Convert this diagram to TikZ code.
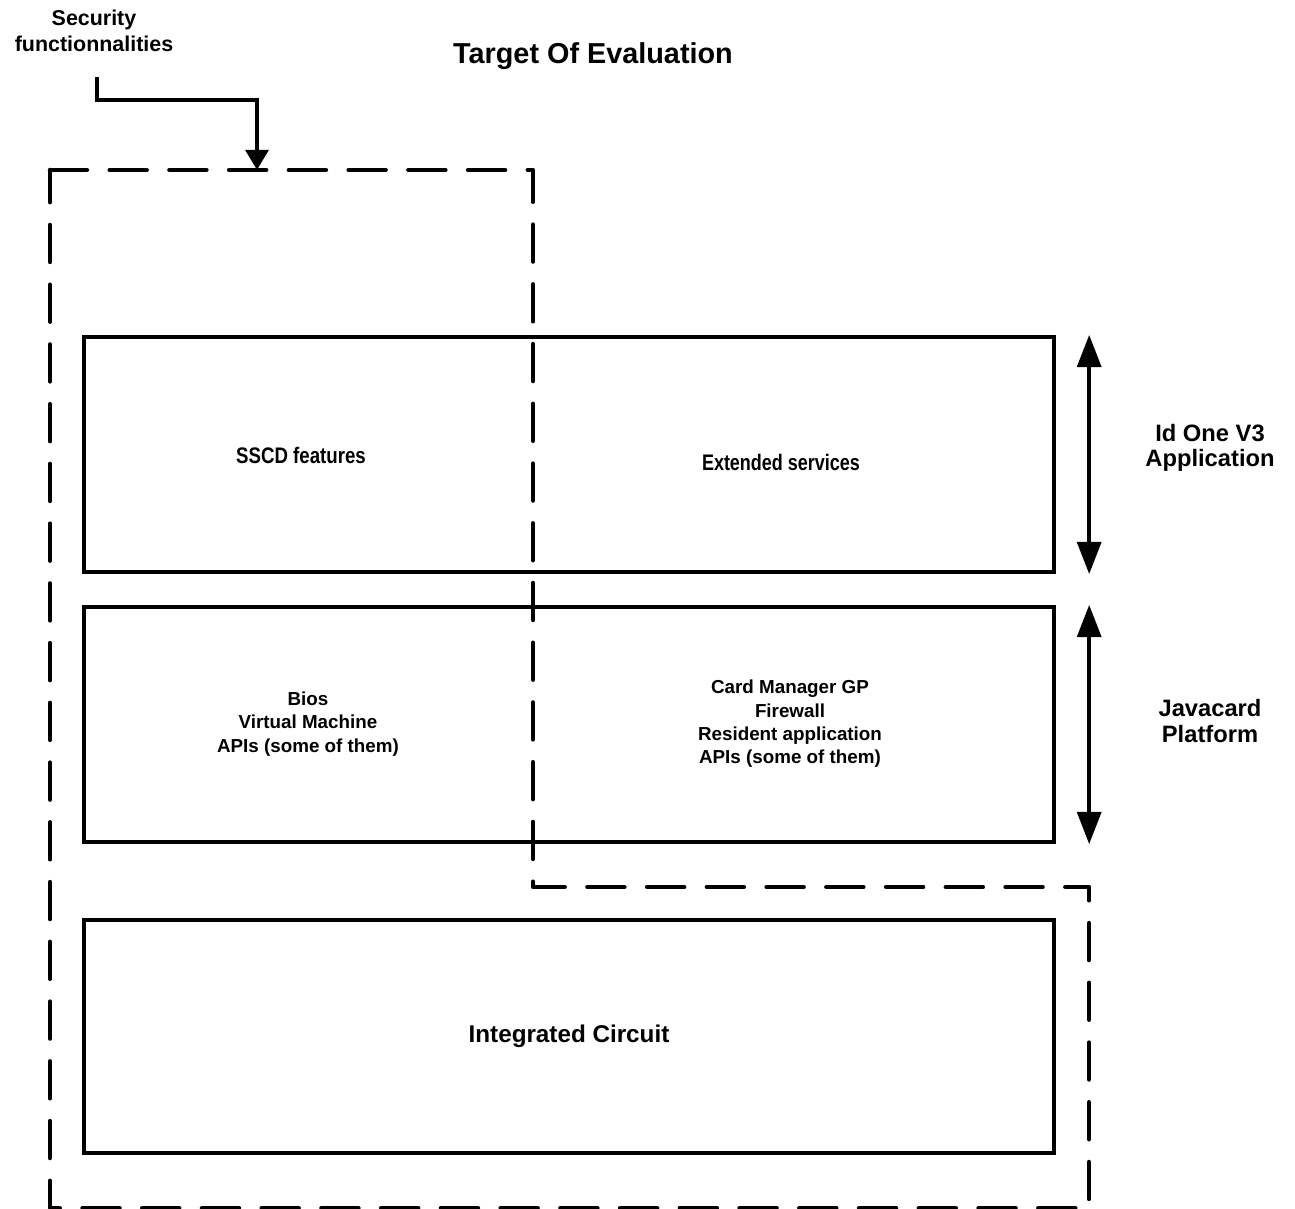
\documentclass[tikz,border=0pt]{standalone}
\usepackage{fontspec}
\setmainfont{Liberation Sans}
\usetikzlibrary{arrows.meta}

\begin{document}
\begin{tikzpicture}[x=0.02cm, y=-0.02cm,
    layerbox/.style={rectangle, draw, line width=2.6pt, minimum width=19.4cm, minimum height=4.7cm, inner sep=0pt},
    toeline/.style={line width=2.6pt, dash pattern=on 21pt off 13pt, line cap=round, line join=round},
    levelarrow/.style={line width=2.6pt, {Triangle[length=18.5pt,width=13.5pt]}-{Triangle[length=18.5pt,width=13.5pt]}},
    smalltext/.style={font=\bfseries\fontsize{10.7}{13.3}\selectfont, align=center},
    labeltext/.style={font=\bfseries\fontsize{13.5}{14.5}\selectfont, align=center}]
    \useasboundingbox (0,0) rectangle (1295,1209);

    % layers
    \node at (569,454.5) [layerbox] (Appli) {};
    \node at (569,724.5) [layerbox] (Platform) {};
    \node at (569,1036.5) [layerbox, minimum height=4.66cm, font=\bfseries\fontsize{13.8}{16}\selectfont] (IC) {Integrated Circuit};

    \node at (301,455) [smalltext] (SSCD) {\scalebox{0.83}[1]{\fontsize{12.8}{15}\selectfont SSCD features}};
    \node at (781,462) [smalltext] (Extended) {\scalebox{0.8}[1]{\fontsize{12.8}{15}\selectfont Extended services}};
    \node at (308,724) [smalltext] (Bios) {Bios\\Virtual Machine\\APIs (some of them)};
    \node at (790,724) [smalltext] (CardMgr) {Card Manager GP\\Firewall\\Resident application\\APIs (some of them)};

    % titles and side labels
    \node at (593,56) [font=\bfseries\fontsize{16.4}{19}\selectfont] (TOE) {Target Of Evaluation};
    \node at (94,31) [font=\bfseries\fontsize{12.2}{14.5}\selectfont, align=center] (Security) {Security\\functionnalities};
    \node at (1210,448) [labeltext] (IdOne) {Id One V3\\Application};
    \node at (1210,721) [labeltext] (Javacard) {Javacard\\Platform};

    % target of evaluation outline
    \coordinate (TOEtop) at (257,170);
    \draw[toeline] (50,170) -- (533,170) -- (533,887) -- (1089,887) -- (1089,1208) -- (50,1208) -- cycle;

    \coordinate (SecStart) at (97,77);
    \draw[line width=2.3pt, -{Triangle[length=11.5pt,width=13pt]}] (SecStart) -- ++(0,23) -| (TOEtop);

    \draw[levelarrow] ([xshift=0.66cm]Appli.north east) -- ([xshift=0.66cm]Appli.south east);
    \draw[levelarrow] ([xshift=0.66cm]Platform.north east) -- ([xshift=0.66cm]Platform.south east);
\end{tikzpicture}
\end{document}
